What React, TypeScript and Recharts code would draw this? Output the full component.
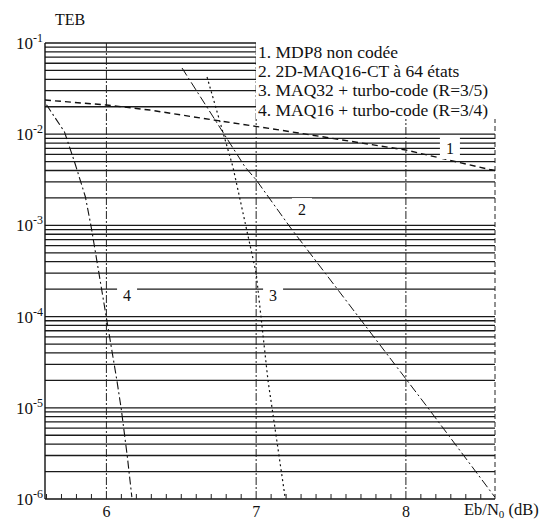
import React from 'react';
import { LineChart, Line, XAxis, YAxis, ReferenceLine, ReferenceDot } from 'recharts';

// Courbe 1 : MDP8 non codée
const mdp8Eb = [5.59, 6.0, 6.29, 6.625, 7.16, 8.0, 8.56, 8.595];
const mdp8Teb = [0.0237, 0.0209, 0.0184, 0.0151, 0.0111, 0.0067, 0.0041, 0.004];

// Courbe 2 : 2D-MAQ16-CT à 64 états
const maq16ctEb = [6.505, 6.926, 7.0, 7.226, 7.98, 8.147, 8.594];
const maq16ctTeb = [0.0532, 0.00437, 0.00316, 0.00096, 2.29e-5, 1.0e-5, 1.05e-6];

// Courbe 3 : MAQ32 + turbo-code (R=3/5)
const maq32Eb = [6.672, 6.845, 7.0, 7.079, 7.106, 7.193];
const maq32Teb = [0.0424, 0.00437, 3.0e-4, 2.0e-5, 1.0e-5, 1.05e-6];

// Courbe 4 : MAQ16 + turbo-code (R=3/4)
const maq16tcEb = [5.6, 5.72, 5.79, 5.86, 5.9, 6.0, 6.07, 6.1, 6.14, 6.17];
const maq16tcTeb = [0.021, 0.0106, 0.0048, 0.00205, 0.00093, 9.7e-5, 2.0e-5, 9.5e-6, 2.9e-6, 1.05e-6];

const legendLabels = [
  '1. MDP8 non codée',
  '2. 2D-MAQ16-CT à 64 états',
  '3. MAQ32 + turbo-code (R=3/5)',
  '4. MAQ16 + turbo-code (R=3/4)',
];

const curveTags = ['1', '2', '3', '4'];
const curveTagEb = [8.294, 7.306, 7.113, 6.138];
const curveTagTeb = [7.06e-3, 1.51e-3, 1.73e-4, 1.73e-4];

const majorX = [6, 7, 8];
const xTicks = [
  5.6, 5.7, 5.8, 5.9, 6, 6.1, 6.2, 6.3, 6.4, 6.5, 6.6, 6.7, 6.8, 6.9, 7,
  7.1, 7.2, 7.3, 7.4, 7.5, 7.6, 7.7, 7.8, 7.9, 8, 8.1, 8.2, 8.3, 8.4, 8.5,
];
const yTicks = [1e-6, 1e-5, 1e-4, 1e-3, 1e-2, 1e-1];
const decades = [1e-6, 1e-5, 1e-4, 1e-3, 1e-2];
const mantissas = [1, 2, 3, 4, 5, 6, 7, 8, 9];

const X_MIN = 5.59;
const X_MAX = 8.595;

const toData = (xs: number[], ys: number[]) => xs.map((x, i) => ({ x, y: ys[i] }));
const gridValues = [
  ...decades.flatMap((d) => mantissas.map((m) => +(m * d).toPrecision(3))).filter((v) => v > 1e-6),
  1e-1,
];

const FONT = '"Liberation Serif", "Times New Roman", serif';

const XTick = (props: any) => {
  const { x, y, payload } = props;
  const v = payload.value;
  if (majorX.includes(v)) {
    return (
      <text x={x} y={y + 18} textAnchor="middle" fontSize={16} fontFamily={FONT} fill="#111">
        {v}
      </text>
    );
  }
  return <line x1={x} x2={x} y1={y} y2={y - 5} stroke="#222" strokeWidth={1} />;
};

const YTick = (props: any) => {
  const { x, y, payload } = props;
  const e = Math.round(Math.log10(payload.value));
  return (
    <text x={x - 2} y={y + 6} textAnchor="end" fontSize={17} fontFamily={FONT} fill="#111">
      10
      <tspan dy={-7} fontSize={12}>
        {e}
      </tspan>
    </text>
  );
};

const tagShape = (text: string) => (p: any) => (
  <g>
    <rect x={p.cx - 10} y={p.cy - 11} width={20} height={22} fill="#fff" />
    <text x={p.cx} y={p.cy + 6} textAnchor="middle" fontSize={16} fontFamily={FONT} fill="#111">
      {text}
    </text>
  </g>
);

export default function App() {
  const series = [
    { data: toData(mdp8Eb, mdp8Teb), dash: '6 4', w: 1.4 },
    { data: toData(maq16ctEb, maq16ctTeb), dash: '9 3 2 3', w: 1 },
    { data: toData(maq32Eb, maq32Teb), dash: '2 3', w: 1.2 },
    { data: toData(maq16tcEb, maq16tcTeb), dash: '8 3 2 3', w: 1.1 },
  ];
  const rowCenters = [52, 71, 90, 110];
  return (
    <div style={{ position: 'absolute', left: 0, top: 0, width: 546, height: 523, background: '#fff' }}>
      <LineChart width={546} height={523} margin={{ top: 43, right: 51, bottom: 0, left: 0 }}>
        <XAxis
          type="number"
          dataKey="x"
          domain={[X_MIN, X_MAX]}
          ticks={xTicks}
          interval={0}
          allowDataOverflow
          height={24}
          tickSize={0}
          tickMargin={0}
          tickLine={false}
          tick={<XTick />}
          axisLine={{ stroke: '#111', strokeWidth: 1.4 }}
        />
        <YAxis
          type="number"
          dataKey="y"
          scale="log"
          domain={[1e-6, 1e-1]}
          ticks={yTicks}
          interval={0}
          allowDataOverflow
          width={45}
          tickSize={0}
          tickMargin={0}
          tickLine={false}
          tick={<YTick />}
          axisLine={{ stroke: '#111', strokeWidth: 1.4 }}
        />
        {gridValues.map((v) => (
          <ReferenceLine key={'h' + v} y={v} stroke="#1a1a1a" strokeWidth={1.3} />
        ))}
        {majorX.map((v) => (
          <ReferenceLine key={'v' + v} x={v} stroke="#222" strokeWidth={1} strokeDasharray="8 2 2 2" />
        ))}
        <ReferenceLine x={X_MAX} stroke="#222" strokeWidth={1} strokeDasharray="5 3" />
        {series.map((s, i) => (
          <Line
            key={i}
            data={s.data}
            dataKey="y"
            type="linear"
            stroke="#111"
            strokeWidth={s.w}
            strokeDasharray={s.dash}
            dot={false}
            activeDot={false}
            isAnimationActive={false}
          />
        ))}
        {curveTags.map((t, i) => (
          <ReferenceDot key={'t' + t} x={curveTagEb[i]} y={curveTagTeb[i]} r={10} shape={tagShape(t)} />
        ))}
      </LineChart>
      <svg
        width={546}
        height={523}
        style={{ position: 'absolute', left: 0, top: 0, pointerEvents: 'none' }}
      >
        <rect x={256} y={36} width={290} height={83} fill="#fff" />
        {legendLabels.map((t, i) => (
          <text key={t} x={258} y={rowCenters[i] + 6} fontSize={17.5} fontFamily={FONT} fill="#111">
            {t}
          </text>
        ))}
        <text x={55} y={25} fontSize={16} fontFamily={FONT} fill="#111">
          TEB
        </text>
        <text x={464} y={515} fontSize={16.5} fontFamily={FONT} fill="#111">
          Eb/N
          <tspan dy={3} fontSize={11}>
            0
          </tspan>
          <tspan dy={-3}> (dB)</tspan>
        </text>
      </svg>
    </div>
  );
}
